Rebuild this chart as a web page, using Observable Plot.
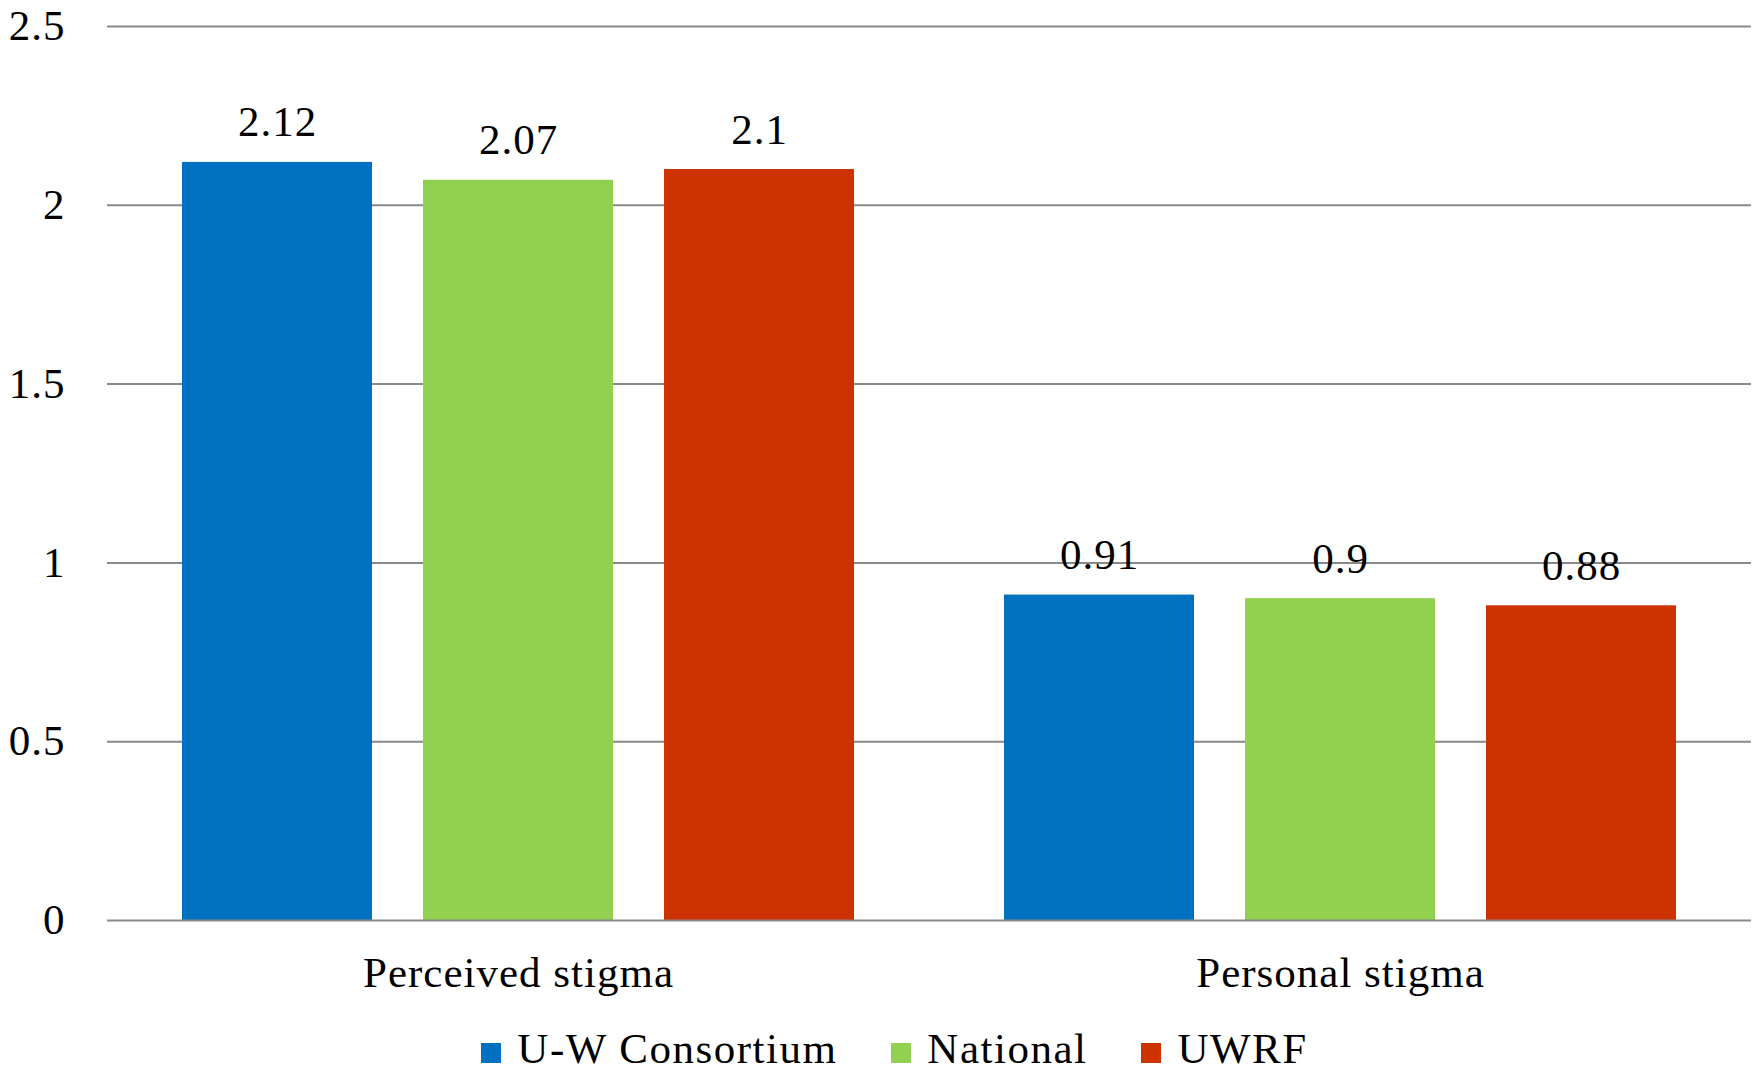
<!DOCTYPE html>
<html>
<head>
<meta charset="utf-8">
<script src="https://cdn.jsdelivr.net/npm/d3@7"></script>
<script src="https://cdn.jsdelivr.net/npm/@observablehq/plot@0.6"></script>
<style>
  html, body { margin: 0; padding: 0; background: #fff; overflow: hidden; }
  #chart { width: 1759px; height: 1010px; }
  #legend {
    display: flex; justify-content: center; align-items: center;
    height: 61px; padding-top: 16px; padding-left: 30px; box-sizing: border-box;
    font-family: "Liberation Serif", serif; font-size: 43px; line-height: 1; letter-spacing: 1.5px; color: #000;
  }
  .item { display: flex; align-items: baseline; margin: 0 27px; }
  .swatch { display: inline-block; width: 20px; height: 20px; margin-right: 16px; }
</style>
</head>
<body>
<div id="chart"></div>
<div id="legend"></div>
<script>
// Mean stigma scores by comparison group
const categories = ["Perceived stigma", "Personal stigma"];
const series = ["U-W Consortium", "National", "UWRF"];
const uwConsortium = [2.12, 0.91];
const national = [2.07, 0.9];
const uwrf = [2.1, 0.88];
const seriesColors = ["#0070C0", "#92D050", "#CC3300"];
const yTicks = [0, 0.5, 1, 1.5, 2, 2.5];

const valuesBySeries = [uwConsortium, national, uwrf];
const rows = [];
categories.forEach((c, i) => {
  series.forEach((s, j) => rows.push({category: c, series: s, value: valuesBySeries[j][i]}));
});

const chart = Plot.plot({
  width: 1759,
  height: 1010,
  marginLeft: 107,
  marginRight: 8,
  marginTop: 26,
  marginBottom: 90,
  style: {fontFamily: "Liberation Serif, serif", fontSize: "43px", letterSpacing: "1px", color: "#000", background: "#fff"},
  fx: {domain: categories, padding: 0, label: null, tickSize: 0, tickPadding: 36},
  x: {domain: series, paddingInner: 0.2107, paddingOuter: 0.3037, axis: null},
  y: {domain: [0, 2.5], ticks: yTicks, tickFormat: d => String(d), tickSize: 0, tickPadding: 42, label: null},
  color: {domain: series, range: seriesColors},
  marks: [
    Plot.ruleY(yTicks.filter(d => d > 0), {stroke: "#898989", strokeWidth: 2}),
    Plot.barY(rows, {fx: "category", x: "series", y: "value", fill: "series", inset: 0}),
    Plot.ruleY([0], {stroke: "#898989", strokeWidth: 2}),
    Plot.text(rows, {
      fx: "category", x: "series", y: "value", text: d => String(d.value),
      lineAnchor: "bottom", dy: -26, fill: "#000", fontSize: 43
    })
  ]
});
document.getElementById("chart").appendChild(chart);

const legend = document.getElementById("legend");
series.forEach((s, i) => {
  const item = document.createElement("div");
  item.className = "item";
  const sw = document.createElement("span");
  sw.className = "swatch";
  sw.style.background = seriesColors[i];
  const label = document.createElement("span");
  label.textContent = s;
  item.appendChild(sw);
  item.appendChild(label);
  legend.appendChild(item);
});
</script>
</body>
</html>
